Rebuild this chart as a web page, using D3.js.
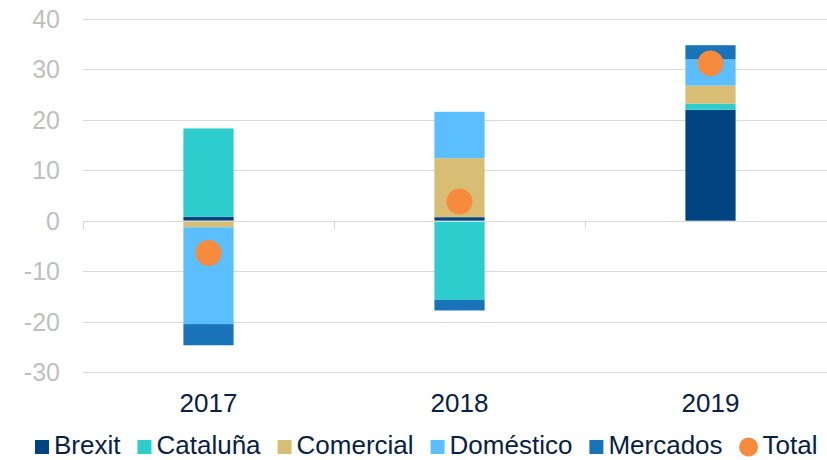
<!DOCTYPE html>
<html>
<head>
<meta charset="utf-8">
<script src="https://cdn.jsdelivr.net/npm/d3@7"></script>
<style>
  html, body { margin: 0; padding: 0; background: #ffffff; }
  svg { display: block; font-family: "Liberation Sans", Arial, sans-serif; }
</style>
</head>
<body>
<svg id="chart" width="827" height="460"></svg>
<script>
// ---- data ----
const years = ["2017", "2018", "2019"];
const seriesNames = ["Brexit", "Cataluña", "Comercial", "Doméstico", "Mercados"];
const brexit    = [0.8, 0.7, 22.0];
const cataluna  = [17.5, -15.7, 1.2];
const comercial = [-1.3, 11.7, 3.6];
const domestico = [-19.2, 9.2, 5.2];
const mercados  = [-4.2, -2.1, 2.8];
const total     = [-6.4, 3.8, 31.2];
const yTicks    = [40, 30, 20, 10, 0, -10, -20, -30];
const seriesColors = ["#004481", "#2dcccd", "#d8be75", "#5bbeff", "#1973b8"];
const totalColor = "#f78b3d";

// ---- build table ----
const seriesValues = [brexit, cataluna, comercial, domestico, mercados];
const table = years.map((y, i) => {
  const row = { year: y };
  seriesNames.forEach((s, j) => { row[s] = seriesValues[j][i]; });
  return row;
});

const svg = d3.select("#chart");

const x = d3.scaleBand().domain(years).range([83, 836]).padding(0);
const y = d3.scaleLinear().domain([-30, 40]).range([372, 19]);

// gridlines
svg.append("g")
  .selectAll("line")
  .data(yTicks.filter(t => t !== 0))
  .join("line")
  .attr("x1", 83).attr("x2", 827)
  .attr("y1", d => Math.round(y(d)) + 0.5).attr("y2", d => Math.round(y(d)) + 0.5)
  .attr("stroke", "#d9d9d9").attr("stroke-width", 1);

// y axis labels
svg.append("g")
  .selectAll("text")
  .data(yTicks)
  .join("text")
  .attr("x", 60)
  .attr("y", d => y(d))
  .attr("dy", "0.36em")
  .attr("text-anchor", "end")
  .attr("font-size", 25)
  .attr("fill", "#bfbfbf")
  .text(d => d);

// stacked bars
const stack = d3.stack().keys(seriesNames).offset(d3.stackOffsetDiverging);
const layers = stack(table);
const barW = x.bandwidth() * 0.2;

svg.append("g")
  .selectAll("g")
  .data(layers)
  .join("g")
  .attr("fill", (d, i) => seriesColors[i])
  .selectAll("rect")
  .data(d => d)
  .join("rect")
  .attr("x", d => x(d.data.year) + x.bandwidth() / 2 - barW / 2)
  .attr("y", d => y(Math.max(d[0], d[1])))
  .attr("width", barW)
  .attr("height", d => Math.abs(y(d[0]) - y(d[1])));

// zero axis line with category ticks
const zy = Math.round(y(0)) + 0.5;
svg.append("line")
  .attr("x1", 83).attr("x2", 827)
  .attr("y1", zy).attr("y2", zy)
  .attr("stroke", "#d9d9d9").attr("stroke-width", 1);
svg.append("g")
  .selectAll("line")
  .data(years)
  .join("line")
  .attr("x1", d => Math.round(x(d)) + 0.5)
  .attr("x2", d => Math.round(x(d)) + 0.5)
  .attr("y1", zy).attr("y2", zy + 8)
  .attr("stroke", "#d9d9d9").attr("stroke-width", 1);

// total dots
svg.append("g")
  .selectAll("circle")
  .data(years)
  .join("circle")
  .attr("cx", d => x(d) + x.bandwidth() / 2)
  .attr("cy", (d, i) => y(total[i]))
  .attr("r", 13)
  .attr("fill", totalColor);

// x labels
svg.append("g")
  .selectAll("text")
  .data(years)
  .join("text")
  .attr("x", d => x(d) + x.bandwidth() / 2)
  .attr("y", 412)
  .attr("text-anchor", "middle")
  .attr("font-size", 26)
  .attr("fill", "#072146")
  .text(d => d);

// legend
const legendItems = seriesNames.map((s, i) => ({ name: s, color: seriesColors[i], type: "rect" }))
  .concat([{ name: "Total", color: totalColor, type: "circle" }]);
const lg = svg.append("g");
const baseY = 454;
let cx = 35;
legendItems.forEach(it => {
  const g = lg.append("g");
  let textX;
  if (it.type === "rect") {
    g.append("rect").attr("x", cx).attr("y", baseY - 14).attr("width", 14).attr("height", 14).attr("fill", it.color);
    textX = cx + 19;
  } else {
    g.append("circle").attr("cx", cx + 9).attr("cy", baseY - 7).attr("r", 9.5).attr("fill", it.color);
    textX = cx + 23;
  }
  const t = g.append("text")
    .attr("x", textX).attr("y", baseY)
    .attr("font-size", 26)
    .attr("fill", "#072146")
    .text(it.name);
  cx = textX + t.node().getComputedTextLength() + 17;
});
</script>
</body>
</html>
